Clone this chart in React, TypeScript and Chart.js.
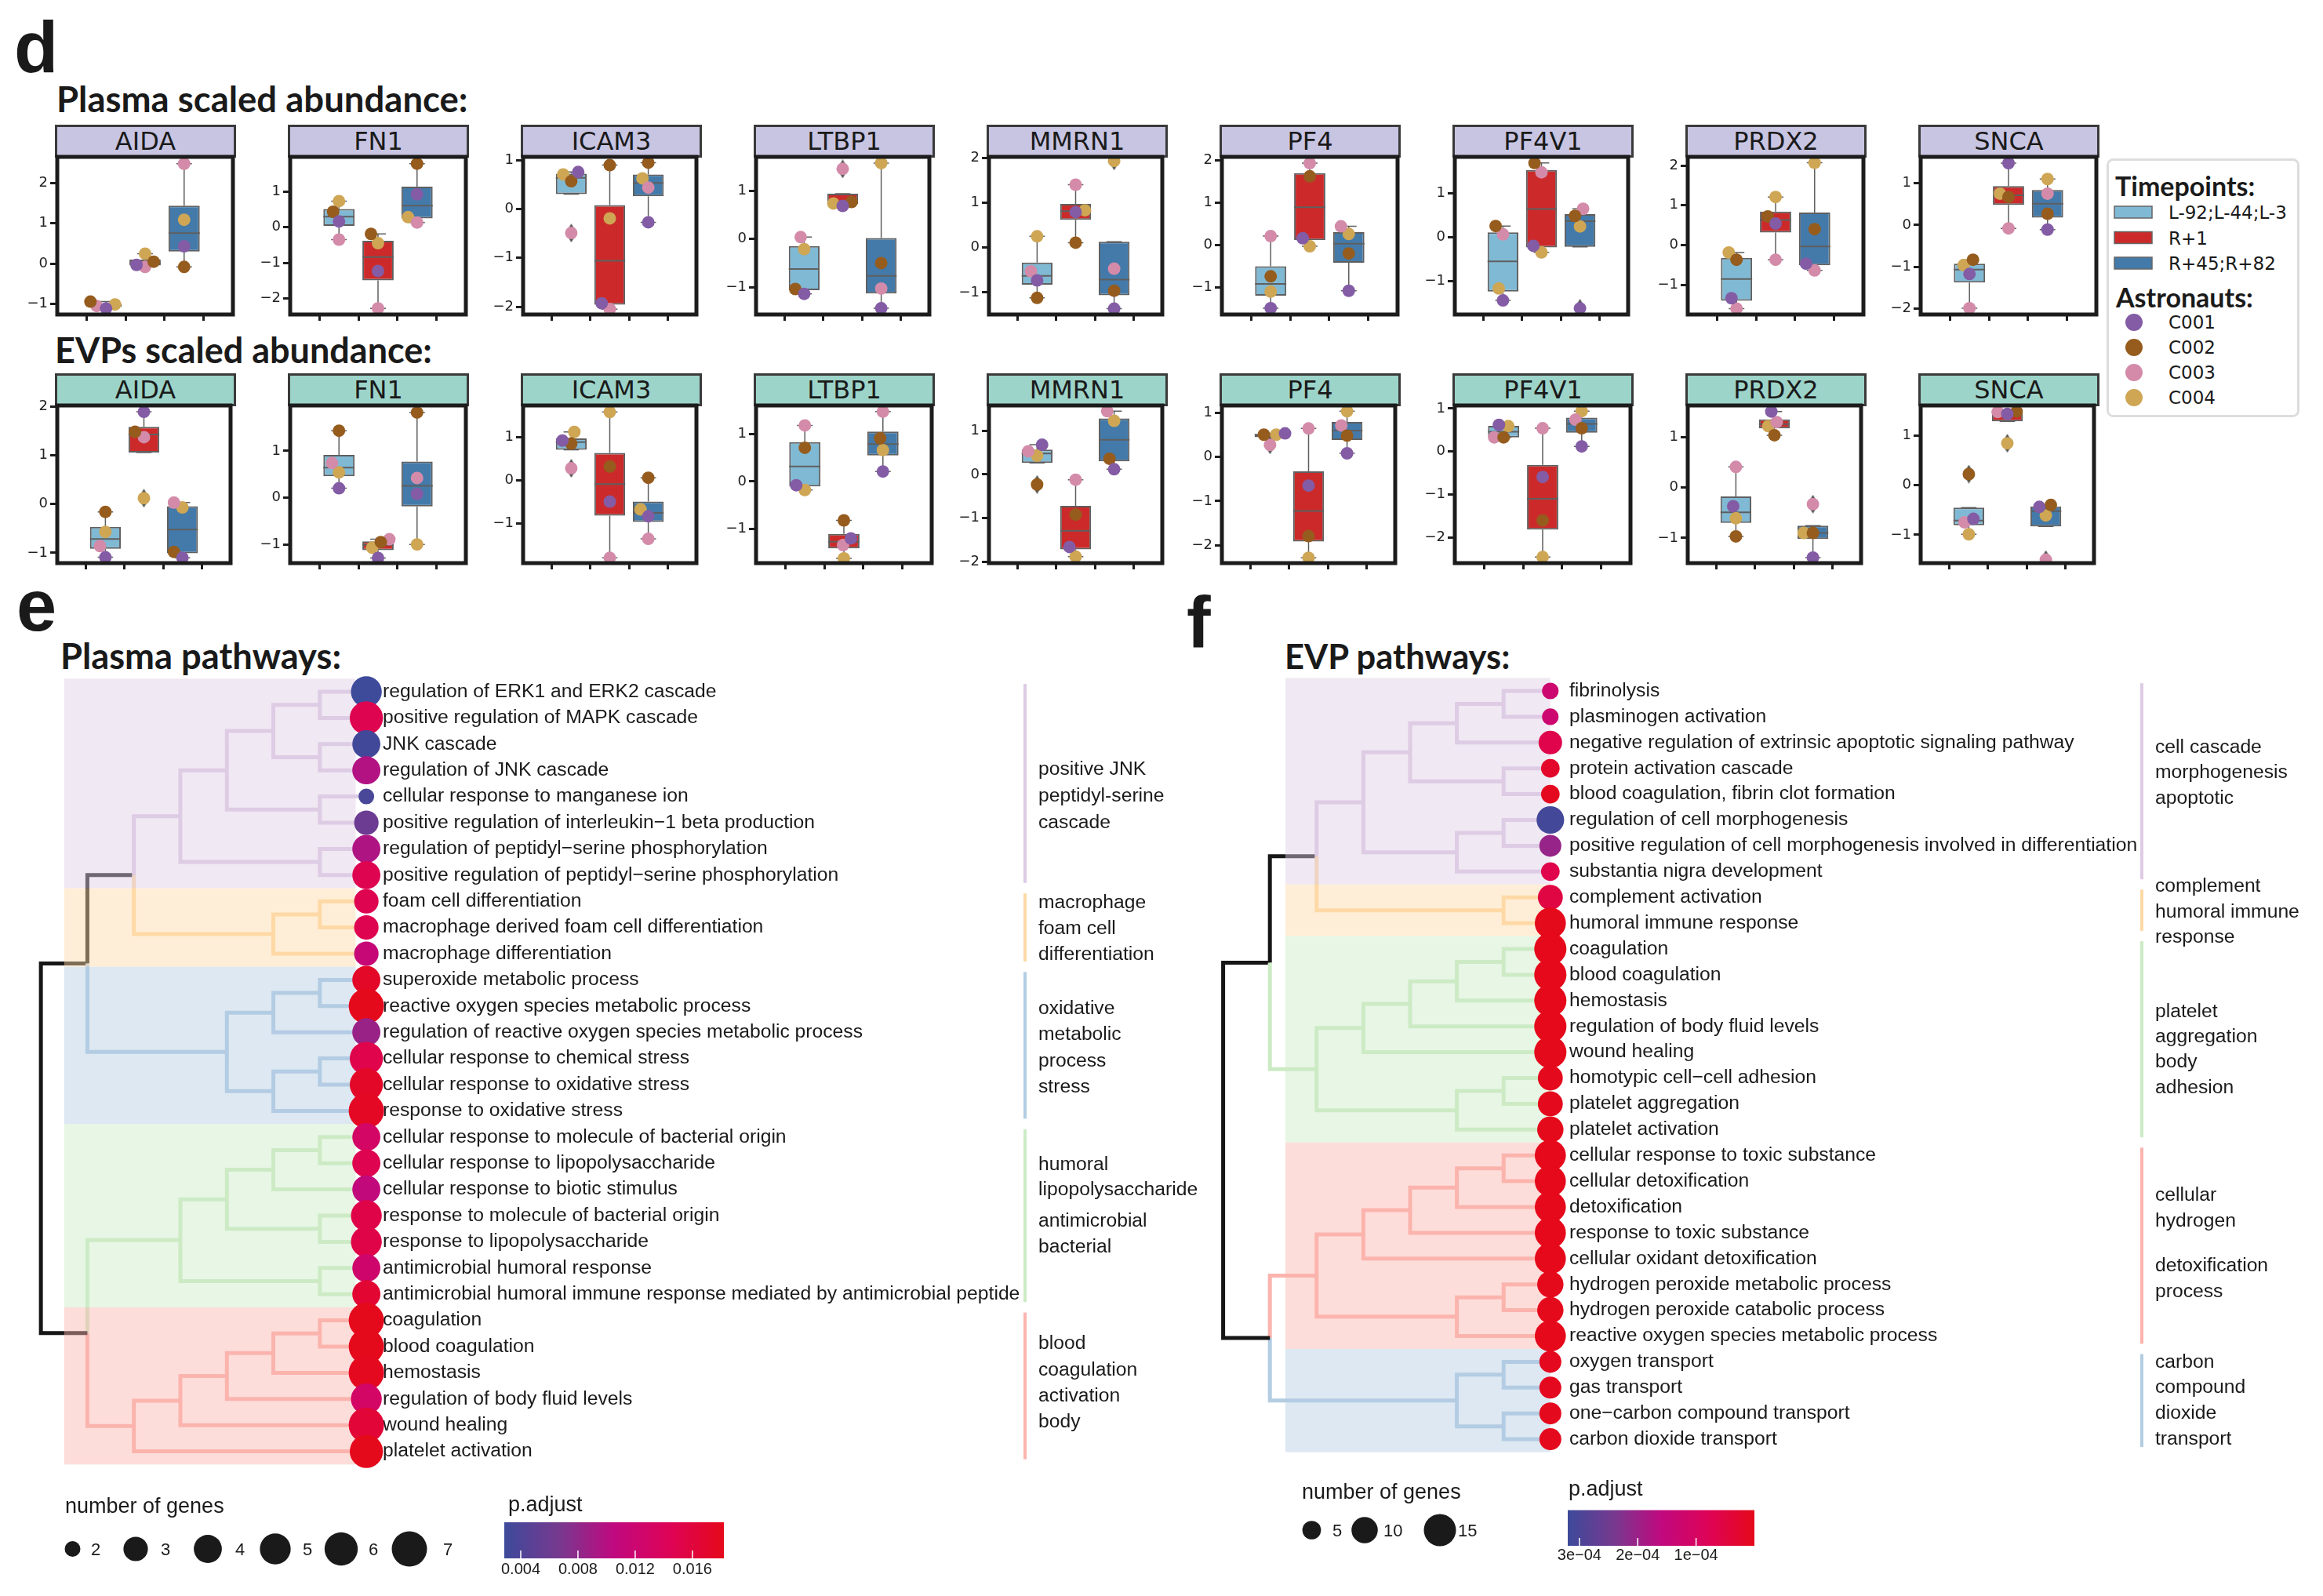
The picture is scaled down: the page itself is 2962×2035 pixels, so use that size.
import React, { useEffect, useRef } from "react";
import { Chart, registerables } from "chart.js";

Chart.register(...registerables);

// ====================== Panel d data ======================
const GENES = ["AIDA", "FN1", "ICAM3", "LTBP1", "MMRN1", "PF4", "PF4V1", "PRDX2", "SNCA"];
const TIMEPOINTS = ["L-92;L-44;L-3", "R+1", "R+45;R+82"];
const ASTRONAUTS = ["C001", "C002", "C003", "C004"];

// scaled abundance: [gene][timepoint][C001, C002, C003, C004]
const PLASMA_VALUES = [
  [[-1.11, -0.94, -1.05, -1.01], [-0.03, 0.05, -0.08, 0.25], [0.43, -0.08, 2.48, 1.09]],
  [[0.16, 0.43, -0.35, 0.73], [-1.23, -0.19, -2.28, -0.45], [0.92, 1.78, 0.13, 0.28]],
  [[0.76, 0.57, -0.49, 0.71], [-1.93, 0.9, -2.05, -0.19], [-0.27, 0.95, 0.44, 0.63]],
  [[-1.14, -1.04, 0.04, -0.21], [0.69, 0.77, 1.46, 0.74], [-1.44, -0.5, -1.03, 1.58]],
  [[-0.73, -1.12, -0.53, 0.25], [0.79, 0.11, 1.4, 0.83], [-1.36, -0.96, -0.47, 1.93]],
  [[-1.49, -0.74, 0.21, -1.1], [0.16, 1.62, 1.93, -0.03], [-1.08, -0.2, 0.44, 0.26]],
  [[-1.44, 0.25, 0.06, -1.17], [-0.2, 1.68, 1.47, -0.35], [-1.62, 0.48, 0.64, 0.24]],
  [[-1.34, -0.37, -1.6, -0.19], [0.54, 0.72, -0.37, 1.21], [-0.47, 0.4, -0.64, 2.07]],
  [[-1.17, -0.83, -1.99, -0.96], [1.48, 0.67, -0.08, 0.75], [-0.11, 0.27, 0.75, 1.1]],
];
// swarm offsets (category units)
const PLASMA_JITTER = [
  [[0, -0.4, -0.24, 0.23], [-0.22, 0.22, 0, 0], [0, 0, 0, 0]],
  [[0, -0.15, 0, 0], [0, -0.18, 0, 0], [0, 0, 0, -0.23]],
  [[0.18, 0, 0, -0.21], [-0.21, 0, 0, 0], [0, 0, 0, -0.15]],
  [[0, -0.23, -0.09, 0], [0, 0.23, 0, -0.24], [0, 0, 0, 0]],
  [[0, 0, -0.16, 0], [0, 0, 0, 0.24], [0, 0, 0, 0]],
  [[0, 0, 0, 0], [-0.18, 0, 0, 0], [0, 0, -0.2, 0]],
  [[0, -0.19, 0, -0.11], [-0.21, -0.18, 0, 0], [0, -0.13, 0.08, 0]],
  [[-0.13, 0, 0, -0.2], [0, -0.2, 0, 0], [-0.22, 0, 0, 0]],
  [[0, 0.09, 0, -0.15], [0, 0, 0, -0.22], [0, 0, 0, 0]],
];
const PLASMA_YLIM = [
  [-1.26, 2.65], [-2.45, 1.97], [-2.16, 1.07], [-1.57, 1.71], [-1.49, 2.02],
  [-1.64, 2.08], [-1.76, 1.82], [-1.75, 2.22], [-2.14, 1.63],
];

const EVP_VALUES = [
  [[-1.09, -0.16, -0.86, -0.57], [1.89, 1.48, 1.37, 0.12], [-1.1, -0.98, 0.03, -0.07]],
  [[0.2, 1.43, 0.74, 0.54], [-1.29, -0.95, -0.89, -1.07], [0.08, 1.82, 0.42, -1.0]],
  [[0.92, 0.85, 0.28, 1.12], [-0.49, 0.32, -1.79, 1.58], [-0.83, 0.06, -1.35, -0.67]],
  [[-0.08, 0.71, 1.18, -0.18], [-1.2, -0.82, -1.34, -1.62], [0.21, 0.91, 1.47, 0.66]],
  [[0.68, -0.23, 0.53, 0.43], [-1.66, -0.92, -0.12, -1.88], [0.12, 0.36, 1.45, 1.23]],
  [[0.53, 0.5, 0.27, 0.5], [-0.65, -1.79, 0.64, -2.28], [0.08, 0.48, 0.71, 1.03]],
  [[0.62, 0.33, 0.33, 0.59], [-0.59, -1.6, 0.54, -2.45], [0.12, 0.54, 0.74, 0.94]],
  [[-0.37, -0.97, 0.41, -0.61], [1.51, 1.04, 1.3, 1.22], [-1.39, -0.9, -0.33, -0.9]],
  [[-0.68, 0.22, -0.75, -0.99], [1.43, 1.48, 1.47, 0.84], [-0.44, -0.4, -1.5, -0.61]],
];
const EVP_JITTER = [
  [[0, 0, -0.14, 0], [0, -0.23, 0, 0], [0, -0.22, -0.22, 0]],
  [[0, 0, -0.18, 0], [0, 0.07, 0.29, -0.15], [0, 0, 0, 0]],
  [[-0.23, 0, 0, 0.08], [0, 0, 0, 0], [0, 0, 0, -0.2]],
  [[-0.22, 0, 0, 0], [0.18, 0, -0.02, 0], [0, -0.07, 0, 0]],
  [[0.13, 0, -0.23, 0], [-0.16, 0, 0, 0], [0, -0.12, -0.18, 0]],
  [[0.39, -0.16, 0, 0.16], [0, 0, 0, 0], [0, 0, -0.15, 0]],
  [[-0.12, 0, -0.24, 0.12], [0, 0, 0, 0], [0, 0, -0.16, 0]],
  [[-0.07, 0, 0, 0], [-0.08, 0, 0.06, -0.16], [0, 0, 0, -0.24]],
  [[0.12, 0, -0.11, 0], [0, 0.24, -0.25, 0], [-0.17, 0.13, 0, 0]],
];
const EVP_YLIM = [
  [-1.21, 2.02], [-1.4, 1.97], [-1.91, 1.73], [-1.72, 1.6], [-2.03, 1.58],
  [-2.4, 1.16], [-2.59, 1.07], [-1.5, 1.63], [-1.57, 1.6],
];

// ====================== Panel e data ======================
const PLASMA_PATHWAYS = [
  "regulation of ERK1 and ERK2 cascade",
  "positive regulation of MAPK cascade",
  "JNK cascade",
  "regulation of JNK cascade",
  "cellular response to manganese ion",
  "positive regulation of interleukin\u22121 beta production",
  "regulation of peptidyl\u2212serine phosphorylation",
  "positive regulation of peptidyl\u2212serine phosphorylation",
  "foam cell differentiation",
  "macrophage derived foam cell differentiation",
  "macrophage differentiation",
  "superoxide metabolic process",
  "reactive oxygen species metabolic process",
  "regulation of reactive oxygen species metabolic process",
  "cellular response to chemical stress",
  "cellular response to oxidative stress",
  "response to oxidative stress",
  "cellular response to molecule of bacterial origin",
  "cellular response to lipopolysaccharide",
  "cellular response to biotic stimulus",
  "response to molecule of bacterial origin",
  "response to lipopolysaccharide",
  "antimicrobial humoral response",
  "antimicrobial humoral immune response mediated by antimicrobial peptide",
  "coagulation",
  "blood coagulation",
  "hemostasis",
  "regulation of body fluid levels",
  "wound healing",
  "platelet activation",
];
const PLASMA_GENE_COUNTS = [5, 6, 4, 4, 2, 3, 4, 4, 3, 3, 3, 4, 7, 4, 6, 6, 7, 4, 4, 4, 5, 5, 4, 4, 7, 7, 7, 5, 7, 6];
const PLASMA_PADJ = [
  0.0029, 0.0148, 0.0032, 0.0098, 0.0036, 0.0059, 0.0096, 0.0148, 0.0148, 0.0148,
  0.0113, 0.0174, 0.0181, 0.0085, 0.0151, 0.0173, 0.0176, 0.013, 0.0148, 0.0108,
  0.0153, 0.0153, 0.0124, 0.0167, 0.0181, 0.0181, 0.0179, 0.013, 0.0164, 0.0181,
];
// dendrogram: [merge level, child, child]; leaves are row numbers
const PLASMA_TREE = [7,
  [6,
    [5, [4, [3, [2, [1, 1, 2], [1, 3, 4]], [1, 5, 6]], [1, 7, 8]], [2, [1, 9, 10], 11]],
    [3, [2, [1, 12, 13], 14], [2, [1, 15, 16], 17]]],
  [6,
    [4, [3, [2, [1, 18, 19], 20], [1, 21, 22]], [1, 23, 24]],
    [5, [4, [3, [2, [1, 25, 26], 27], 28], 29], 30]],
];
const PLASMA_CLUSTER_ROWS = [[1, 8], [9, 11], [12, 17], [18, 24], [25, 30]];
const PLASMA_CLUSTER_LABELS = [
  ["positive JNK", "peptidyl-serine", "cascade"],
  ["macrophage", "foam cell", "differentiation"],
  ["oxidative", "metabolic", "process", "stress"],
  ["humoral", "lipopolysaccharide", "antimicrobial", "bacterial"],
  ["blood", "coagulation", "activation", "body"],
];
const PLASMA_CLUSTER_LABEL_ROWS = [
  [3.97, 4.98, 6.0], [9.05, 10.05, 11.05], [13.1, 14.1, 15.1, 16.1],
  [19.05, 20.02, 21.22, 22.2], [25.9, 26.9, 27.88, 28.88],
];
const PLASMA_SIZE_BREAKS = [2, 3, 4, 5, 6, 7];
const PLASMA_PADJ_TICKS = [0.004, 0.008, 0.012, 0.016];
const PLASMA_PADJ_TICK_LABELS = ["0.004", "0.008", "0.012", "0.016"];
const PLASMA_PADJ_LIMITS = [0.00285, 0.0182]; // left, right end of colour bar

// ====================== Panel f data ======================
const EVP_PATHWAYS = [
  "fibrinolysis",
  "plasminogen activation",
  "negative regulation of extrinsic apoptotic signaling pathway",
  "protein activation cascade",
  "blood coagulation, fibrin clot formation",
  "regulation of cell morphogenesis",
  "positive regulation of cell morphogenesis involved in differentiation",
  "substantia nigra development",
  "complement activation",
  "humoral immune response",
  "coagulation",
  "blood coagulation",
  "hemostasis",
  "regulation of body fluid levels",
  "wound healing",
  "homotypic cell\u2212cell adhesion",
  "platelet aggregation",
  "platelet activation",
  "cellular response to toxic substance",
  "cellular detoxification",
  "detoxification",
  "response to toxic substance",
  "cellular oxidant detoxification",
  "hydrogen peroxide metabolic process",
  "hydrogen peroxide catabolic process",
  "reactive oxygen species metabolic process",
  "oxygen transport",
  "gas transport",
  "one\u2212carbon compound transport",
  "carbon dioxide transport",
];
const EVP_GENE_COUNTS = [4, 4, 8, 5, 5, 11, 7, 5, 9, 14, 15, 15, 15, 15, 15, 9, 9, 10, 14, 14, 14, 14, 14, 10, 10, 14, 7, 7, 7, 7];
const EVP_PADJ = [
  1.28e-4, 1.28e-4, 6.4e-5, 2.2e-5, 6e-6, 3.1e-4, 2.05e-4, 6.4e-5, 5.4e-5, 2e-6,
  1e-6, 1e-6, 1e-6, 1e-6, 2e-6, 4e-6, 4e-6, 2e-6, 1e-6, 1e-6,
  1e-6, 1e-6, 1e-6, 2e-6, 2e-6, 1e-6, 6e-6, 6e-6, 5e-6, 5e-6,
];
const EVP_TREE = [7,
  [6,
    [5, [4, [3, [2, [1, 1, 2], 3], [1, 4, 5]], [2, [1, 6, 7], 8]], [1, 9, 10]],
    [5, [4, [3, [2, [1, 11, 12], 13], 14], 15], [2, [1, 16, 17], 18]]],
  [6,
    [5, [4, [3, [2, [1, 19, 20], 21], 22], 23], [2, [1, 24, 25], 26]],
    [2, [1, 27, 28], [1, 29, 30]]],
];
const EVP_CLUSTER_ROWS = [[1, 8], [9, 10], [11, 18], [19, 26], [27, 30]];
const EVP_CLUSTER_LABELS = [
  ["cell cascade", "morphogenesis", "apoptotic"],
  ["complement", "humoral immune", "response"],
  ["platelet", "aggregation", "body", "adhesion"],
  ["cellular", "hydrogen", "detoxification", "process"],
  ["carbon", "compound", "dioxide", "transport"],
];
const EVP_CLUSTER_LABEL_ROWS = [
  [3.18, 4.17, 5.18], [8.57, 9.57, 10.55], [13.43, 14.4, 15.38, 16.4],
  [20.56, 21.55, 23.3, 24.3], [27.02, 28.0, 29.0, 30.0],
];
const EVP_SIZE_BREAKS = [5, 10, 15];
const EVP_PADJ_TICKS = [3e-4, 2e-4, 1e-4];
const EVP_PADJ_TICK_LABELS = ["3e\u221204", "2e\u221204", "1e\u221204"];
const EVP_PADJ_LIMITS = [3.2e-4, 0];

// ====================== styles ======================
const TIME_COLORS = ["#80b9d4", "#cc2a2a", "#437aaa"];
const ASTRO_COLORS = ["#835ca5", "#955c1d", "#d38ba9", "#cea654"];
const PASTEL = {
  red: [251, 180, 174], blue: [179, 205, 227], green: [204, 235, 197],
  purple: [222, 203, 228], orange: [254, 217, 166],
};
const PLASMA_CLUSTER_COLORS = [PASTEL.purple, PASTEL.orange, PASTEL.blue, PASTEL.green, PASTEL.red];
const EVP_CLUSTER_COLORS = [PASTEL.purple, PASTEL.orange, PASTEL.green, PASTEL.red, PASTEL.blue];
const CMAP_STOPS: [number, string][] = [
  [0, "#3d4a9a"], [0.25, "#77398f"], [0.5, "#c0097f"], [0.75, "#dd0357"], [1, "#e5091a"],
];
const SANS = "'Liberation Sans', Arial, Helvetica, sans-serif";
const HEAD = "Lato, 'Open Sans', sans-serif";
const LABEL_PX = 24.7;

function hexRgb(h: string) {
  const n = parseInt(h.slice(1), 16);
  return [(n >> 16) & 255, (n >> 8) & 255, n & 255];
}
function cmap(t: number) {
  t = Math.max(0, Math.min(1, t));
  for (let i = 1; i < CMAP_STOPS.length; i++) {
    const [t1, c1] = CMAP_STOPS[i];
    if (t <= t1 + 1e-9) {
      const [t0, c0] = CMAP_STOPS[i - 1];
      const f = (t - t0) / (t1 - t0);
      const a = hexRgb(c0), b = hexRgb(c1);
      return `rgb(${Math.round(a[0] + f * (b[0] - a[0]))},${Math.round(a[1] + f * (b[1] - a[1]))},${Math.round(a[2] + f * (b[2] - a[2]))})`;
    }
  }
  return CMAP_STOPS[CMAP_STOPS.length - 1][1];
}
const rgb = (c: number[], a = 1) => `rgba(${c[0]},${c[1]},${c[2]},${a})`;

// ====================== box plot helpers ======================
function quant(s: number[], p: number) {
  const pos = (s.length - 1) * p;
  const lo = Math.floor(pos), hi = Math.ceil(pos);
  return s[lo] + (pos - lo) * (s[hi] - s[lo]);
}
function boxStats(v: number[]) {
  const s = [...v].sort((a, b) => a - b);
  const q1 = quant(s, 0.25), med = quant(s, 0.5), q3 = quant(s, 0.75);
  const iqr = q3 - q1;
  const loF = q1 - 1.5 * iqr, hiF = q3 + 1.5 * iqr;
  let wlo = Math.min(...s.filter((x) => x >= loF));
  if (wlo > q1) wlo = q1;
  let whi = Math.max(...s.filter((x) => x <= hiF));
  if (whi < q3) whi = q3;
  const fliers = s.filter((x) => x < wlo || x > whi);
  return { q1, med, q3, wlo, whi, fliers };
}

const PANEL_X0 = 70, PANEL_DX = 297, PANEL_W = 231;
const AREA_W = 226, AREA_H = 201;
const ROW_AREA_TOP = [200, 517];
const ROW_STRIP = [[159, 199], [476, 516]];
const STRIP_COLORS = ["#c8c5e3", "#9dd4c9"];
const Y_AXIS_W = 44, X_AXIS_H = 22, PAD_T = 22, PAD_R = 6;

function makeDiamond(color: string) {
  const c = document.createElement("canvas");
  c.width = 14; c.height = 24;
  const g = c.getContext("2d")!;
  g.fillStyle = color;
  g.beginPath();
  g.moveTo(7, 0); g.lineTo(14, 12); g.lineTo(7, 24); g.lineTo(0, 12);
  g.closePath(); g.fill();
  return c;
}

const framePlugin = {
  id: "frame",
  afterDatasetsDraw(chart: any) {
    const { ctx, chartArea: a } = chart;
    ctx.save();
    ctx.strokeStyle = "#1c1c1c";
    ctx.lineWidth = 5;
    ctx.strokeRect(a.left, a.top, a.right - a.left, a.bottom - a.top);
    ctx.restore();
  },
};

function BoxChart({ values, jitter, ylim, col, row }: any) {
  const ref = useRef<HTMLCanvasElement>(null);
  const areaLeft = PANEL_X0 + PANEL_DX * col + 2.5;
  const areaTop = ROW_AREA_TOP[row];
  const cw = Y_AXIS_W + AREA_W + PAD_R;
  const ch = PAD_T + AREA_H + X_AXIS_H;
  useEffect(() => {
    const stats = values.map((g: number[]) => boxStats(g));
    const whisk: any[] = [];
    const med: any[] = [];
    const fl: any[] = [];
    stats.forEach((s: any, i: number) => {
      whisk.push({ x: i, y: s.q1 }, { x: i, y: s.wlo }, { x: i, y: null });
      whisk.push({ x: i - 0.2, y: s.wlo }, { x: i + 0.2, y: s.wlo }, { x: i, y: null });
      whisk.push({ x: i, y: s.q3 }, { x: i, y: s.whi }, { x: i, y: null });
      whisk.push({ x: i - 0.2, y: s.whi }, { x: i + 0.2, y: s.whi }, { x: i, y: null });
      med.push({ x: i - 0.4, y: s.med }, { x: i + 0.4, y: s.med }, { x: i, y: null });
      s.fliers.forEach((f: number) => {
        const ai = values[i].indexOf(f);
        fl.push({ x: i + (ai >= 0 ? jitter[i][ai] : 0), y: f });
      });
    });
    const datasets: any[] = ASTRONAUTS.map((a, ai) => ({
      type: "scatter",
      label: a,
      data: values.map((g: number[], gi: number) => ({ x: gi + jitter[gi][ai], y: g[ai] })),
      backgroundColor: ASTRO_COLORS[ai],
      borderWidth: 0,
      pointRadius: 8,
      pointHoverRadius: 8,
      order: 1,
    }));
    datasets.push({
      type: "scatter", label: "fliers", data: fl,
      pointStyle: makeDiamond("#505050"), pointRadius: 10, order: 2,
    });
    datasets.push({
      type: "scatter", label: "median", data: med, showLine: true,
      borderColor: "#5f5f5f", borderWidth: 2, pointRadius: 0, spanGaps: false, order: 3,
    });
    datasets.push({
      type: "scatter", label: "whiskers", data: whisk, showLine: true,
      borderColor: "#5f5f5f", borderWidth: 1.5, pointRadius: 0, spanGaps: false, order: 4,
    });
    datasets.push({
      type: "bar", label: "box",
      data: stats.map((s: any, i: number) => ({ x: i, y: [s.q1, s.q3] })),
      backgroundColor: TIME_COLORS, borderColor: "#5f5f5f", borderWidth: 2,
      borderSkipped: false, barPercentage: 0.8, categoryPercentage: 1, grouped: false, order: 5,
    });
    const gridOpts = (len: number) => ({
      display: true, drawOnChartArea: false, drawTicks: true,
      tickLength: len, tickWidth: 3, tickColor: "#1c1c1c",
    });
    const chart = new Chart(ref.current!, {
      type: "scatter",
      data: { datasets },
      plugins: [framePlugin],
      options: {
        animation: false, responsive: false, maintainAspectRatio: false,
        devicePixelRatio: 1, events: [],
        layout: { padding: { top: PAD_T, right: PAD_R, left: 0, bottom: 0 } },
        plugins: { legend: { display: false }, tooltip: { enabled: false } },
        scales: {
          x: {
            type: "linear", min: -0.5, max: 2.5,
            afterBuildTicks: (s: any) => { s.ticks = [0, 1, 2].map((v) => ({ value: v })); },
            afterFit: (s: any) => { s.height = X_AXIS_H; },
            ticks: { display: false },
            grid: gridOpts(8),
            border: { display: false },
          },
          y: {
            type: "linear", min: ylim[0], max: ylim[1],
            afterBuildTicks: (s: any) => {
              const t: any[] = [];
              for (let v = Math.ceil(s.min); v <= Math.floor(s.max); v++) t.push({ value: v });
              s.ticks = t;
            },
            afterFit: (s: any) => { s.width = Y_AXIS_W; },
            ticks: {
              font: { family: "'DejaVu Sans'", size: 18 }, color: "#222", padding: 3,
              callback: (v: any) => (v < 0 ? "\u2212" + Math.abs(v) : String(v)),
            },
            grid: gridOpts(9),
            border: { display: false },
          },
        },
      } as any,
    });
    return () => chart.destroy();
  }, []);
  return (
    <canvas
      ref={ref}
      width={cw}
      height={ch}
      style={{ position: "absolute", left: areaLeft - Y_AXIS_W, top: areaTop - PAD_T, width: cw, height: ch }}
    />
  );
}

// ====================== dendrogram / dot panels ======================
function walk(node: any, clusterOf: (r: number) => number, segs: any[]): any {
  if (typeof node === "number") return { level: 0, y: node, cl: clusterOf(node) };
  const [lv, a, b] = node;
  const A = walk(a, clusterOf, segs);
  const B = walk(b, clusterOf, segs);
  const y = (A.y + B.y) / 2;
  for (const c of [A, B]) segs.push({ cl: c.cl, pts: [[c.level, c.y], [lv, c.y], [lv, y]] });
  return { level: lv, y, cl: A.cl === B.cl ? A.cl : -1 };
}

const PLASMA_CFG = {
  labels: PLASMA_PATHWAYS, genes: PLASMA_GENE_COUNTS, padj: PLASMA_PADJ, tree: PLASMA_TREE,
  clusterRows: PLASMA_CLUSTER_ROWS, clusterLabels: PLASMA_CLUSTER_LABELS,
  clusterLabelRows: PLASMA_CLUSTER_LABEL_ROWS, colors: PLASMA_CLUSTER_COLORS,
  sizeBreaks: PLASMA_SIZE_BREAKS, pTicks: PLASMA_PADJ_TICKS, pTickLabels: PLASMA_PADJ_TICK_LABELS,
  pLimits: PLASMA_PADJ_LIMITS,
  size: (n: number) => 20 + 25 * Math.sqrt((n - 2) / 5),
  canvas: { left: 0, top: 780, width: 1560, height: 1255 },
  x0: 467, dx: 59.7, lmin: -0.3, lmax: 7.5, labelX: 488,
  row1: 882, rowStep: 33.4, band: [6.5, 0.23],
  barX: 1307, clusterTextX: 1324,
  sizeTitle: [83, 1929], sizeDotX: [92.5, 173, 265, 351, 435, 522], sizeDotY: 1975,
  sizeLabelX: [116, 205, 300, 386, 470, 565], sizeLabelY: 1983,
  pTitle: [648, 1927], bar: [643, 1941, 280, 46], tickLabelY: 2007,
};
const EVP_CFG = {
  labels: EVP_PATHWAYS, genes: EVP_GENE_COUNTS, padj: EVP_PADJ, tree: EVP_TREE,
  clusterRows: EVP_CLUSTER_ROWS, clusterLabels: EVP_CLUSTER_LABELS,
  clusterLabelRows: EVP_CLUSTER_LABEL_ROWS, colors: EVP_CLUSTER_COLORS,
  sizeBreaks: EVP_SIZE_BREAKS, pTicks: EVP_PADJ_TICKS, pTickLabels: EVP_PADJ_TICK_LABELS,
  pLimits: EVP_PADJ_LIMITS,
  size: (n: number) => 10.6 * Math.sqrt(n),
  canvas: { left: 1500, top: 780, width: 1462, height: 1255 },
  x0: 1976.8, dx: 59.6, lmin: -0.35, lmax: 7.4, labelX: 2001,
  row1: 881, rowStep: 32.9, band: [5.67, 0.0],
  barX: 2731, clusterTextX: 2748,
  sizeTitle: [1660, 1911], sizeDotX: [1672.5, 1740, 1836], sizeDotY: 1951,
  sizeLabelX: [1699, 1764, 1859], sizeLabelY: 1959,
  pTitle: [2000, 1907], bar: [1999, 1925.5, 238, 45.5], tickLabelY: 1989,
};

function PathwayChart({ cfg }: any) {
  const ref = useRef<HTMLCanvasElement>(null);
  const cv = cfg.canvas;
  useEffect(() => {
    const n = cfg.labels.length;
    const clusterOf = (r: number) =>
      cfg.clusterRows.findIndex((ab: number[]) => r >= ab[0] && r <= ab[1]);
    const segs: any[] = [];
    walk(cfg.tree, clusterOf, segs);
    const groups = new Map<number, any[]>();
    for (const s of segs) {
      if (!groups.has(s.cl)) groups.set(s.cl, []);
      const arr = groups.get(s.cl)!;
      for (const p of s.pts) arr.push({ x: p[0], y: p[1] });
      arr.push({ x: s.pts[2][0], y: null });
    }
    const tOf = (p: number) => (p - cfg.pLimits[0]) / (cfg.pLimits[1] - cfg.pLimits[0]);
    const radii = cfg.genes.map((g: number) => cfg.size(g) / 2);
    const datasets: any[] = [
      {
        type: "scatter", label: "dots",
        data: cfg.labels.map((_: string, i: number) => ({ x: 0, y: i + 1 })),
        pointRadius: radii, pointHoverRadius: radii,
        backgroundColor: cfg.padj.map((p: number) => cmap(tOf(p))),
        borderWidth: 0, clip: false, order: 0,
      },
    ];
    groups.forEach((data, cl) => {
      datasets.push({
        type: "scatter", label: "tree" + cl, data, showLine: true, spanGaps: false,
        borderColor: cl < 0 ? "#161616" : rgb(cfg.colors[cl]), borderWidth: 5,
        borderJoinStyle: "miter", pointRadius: 0, clip: false, order: 1,
      });
    });

    // layout derived from level / row mapping
    const areaLeft = cfg.x0 - cfg.dx * cfg.lmax - cv.left;
    const areaRight = cfg.x0 - cfg.dx * cfg.lmin - cv.left;
    const areaTop = cfg.row1 - 0.5 * cfg.rowStep - cv.top;
    const areaBottom = cfg.row1 + (n - 0.5) * cfg.rowStep - cv.top;
    const axisW = cv.width - areaRight;

    const decor = {
      id: "decor",
      beforeDatasetDraw(chart: any, args: any) {
        if (args.index !== 0) return;
        const { ctx, scales } = chart;
        const x0 = scales.x.getPixelForValue(cfg.band[0]);
        const x1 = scales.x.getPixelForValue(cfg.band[1]);
        ctx.save();
        cfg.clusterRows.forEach((ab: number[], k: number) => {
          const y0 = scales.y.getPixelForValue(ab[0] - 0.5);
          const y1 = scales.y.getPixelForValue(ab[1] + 0.5);
          ctx.fillStyle = rgb(cfg.colors[k], 0.45);
          ctx.fillRect(x0, y0, x1 - x0, y1 - y0);
        });
        ctx.restore();
      },
      afterDraw(chart: any) {
        const { ctx, scales } = chart;
        const L = cv.left, T = cv.top;
        ctx.save();
        // cluster bars and labels
        cfg.clusterRows.forEach((ab: number[], k: number) => {
          const y0 = scales.y.getPixelForValue(ab[0] - 0.3);
          const y1 = scales.y.getPixelForValue(ab[1] + 0.3);
          ctx.fillStyle = rgb(cfg.colors[k]);
          ctx.fillRect(cfg.barX - L - 2, y0, 4, y1 - y0);
          ctx.fillStyle = "#1a1a1a";
          ctx.font = `${LABEL_PX}px ${SANS}`;
          ctx.textBaseline = "middle";
          ctx.textAlign = "left";
          cfg.clusterLabels[k].forEach((txt: string, j: number) => {
            ctx.fillText(txt, cfg.clusterTextX - L, scales.y.getPixelForValue(cfg.clusterLabelRows[k][j]));
          });
        });
        // size legend
        ctx.textBaseline = "alphabetic";
        ctx.fillStyle = "#1a1a1a";
        ctx.font = `27px ${SANS}`;
        ctx.fillText("number of genes", cfg.sizeTitle[0] - L, cfg.sizeTitle[1] - T);
        cfg.sizeBreaks.forEach((b: number, i: number) => {
          ctx.fillStyle = "#1a1a1a";
          ctx.beginPath();
          ctx.arc(cfg.sizeDotX[i] - L, cfg.sizeDotY - T, cfg.size(b) / 2, 0, Math.PI * 2);
          ctx.fill();
          ctx.font = `22px ${SANS}`;
          ctx.fillText(String(b), cfg.sizeLabelX[i] - L, cfg.sizeLabelY - T);
        });
        // colour bar
        ctx.font = `27px ${SANS}`;
        ctx.fillText("p.adjust", cfg.pTitle[0] - L, cfg.pTitle[1] - T);
        const [bx, by, bw, bh] = cfg.bar;
        const grad = ctx.createLinearGradient(bx - L, 0, bx - L + bw, 0);
        CMAP_STOPS.forEach(([t, c]) => grad.addColorStop(t, c));
        ctx.fillStyle = grad;
        ctx.fillRect(bx - L, by - T, bw, bh);
        ctx.strokeStyle = "#ffffff";
        ctx.lineWidth = 1.5;
        ctx.fillStyle = "#1a1a1a";
        ctx.font = `20px ${SANS}`;
        ctx.textAlign = "center";
        cfg.pTicks.forEach((v: number, i: number) => {
          const px = bx - L + ((v - cfg.pLimits[0]) / (cfg.pLimits[1] - cfg.pLimits[0])) * bw;
          ctx.beginPath();
          ctx.moveTo(px, by - T + bh - 10);
          ctx.lineTo(px, by - T + bh);
          ctx.stroke();
          ctx.fillText(cfg.pTickLabels[i], px, cfg.tickLabelY - T);
        });
        ctx.restore();
      },
    };

    const chart = new Chart(ref.current!, {
      type: "scatter",
      data: { datasets },
      plugins: [decor],
      options: {
        animation: false, responsive: false, maintainAspectRatio: false,
        devicePixelRatio: 1, events: [],
        layout: { padding: { left: areaLeft, top: areaTop, right: 0, bottom: cv.height - areaBottom } },
        plugins: { legend: { display: false }, tooltip: { enabled: false } },
        scales: {
          x: { type: "linear", reverse: true, min: cfg.lmin, max: cfg.lmax, display: false },
          y: {
            type: "linear", position: "right", reverse: true, min: 0.5, max: n + 0.5,
            afterBuildTicks: (s: any) => {
              s.ticks = cfg.labels.map((_: string, i: number) => ({ value: i + 1 }));
            },
            afterFit: (s: any) => { s.width = axisW; },
            ticks: {
              autoSkip: false, padding: cfg.labelX - cv.left - areaRight,
              font: { family: SANS, size: LABEL_PX }, color: "#1a1a1a",
              callback: (v: any) => cfg.labels[Math.round(v) - 1] ?? "",
            },
            grid: { display: false, drawTicks: false },
            border: { display: false },
          },
        },
      } as any,
    });
    return () => chart.destroy();
  }, []);
  return (
    <canvas
      ref={ref}
      width={cv.width}
      height={cv.height}
      style={{ position: "absolute", left: cv.left, top: cv.top, width: cv.width, height: cv.height }}
    />
  );
}

// ====================== static text / strips / legend ======================
function Overlay() {
  return (
    <svg width={2962} height={2035} style={{ position: "absolute", left: 0, top: 0 }}>
      <text x={18} y={92} fontFamily={SANS} fontWeight="bold" fontSize={92} fill="#1a1a1a">d</text>
      <text x={21} y={804} fontFamily={SANS} fontWeight="bold" fontSize={92} fill="#1a1a1a">e</text>
      <text x={1513} y={825} fontFamily={SANS} fontWeight="bold" fontSize={92} fill="#1a1a1a">f</text>
      <text x={72} y={143} fontFamily={HEAD} fontWeight="bold" fontSize={45.5} fill="#1a1a1a">Plasma scaled abundance:</text>
      <text x={70} y={463} fontFamily={HEAD} fontWeight="bold" fontSize={45} fill="#1a1a1a">EVPs scaled abundance:</text>
      <text x={77} y={853} fontFamily={HEAD} fontWeight="bold" fontSize={45.3} fill="#1a1a1a">Plasma pathways:</text>
      <text x={1638} y={853} fontFamily={HEAD} fontWeight="bold" fontSize={43.5} fill="#1a1a1a">EVP pathways:</text>
      {[0, 1].map((r) =>
        GENES.map((g, i) => {
          const x = PANEL_X0 + PANEL_DX * i;
          const [t, b] = ROW_STRIP[r];
          return (
            <g key={r + g}>
              <rect x={x + 1.5} y={t + 1.5} width={PANEL_W - 3} height={b - t - 1} fill={STRIP_COLORS[r]} stroke="#3a3a3a" strokeWidth={3} />
              <text x={x + PANEL_W / 2} y={b - 8} textAnchor="middle" fontFamily="'DejaVu Sans'" fontSize={32} fill="#1a1a1a">{g}</text>
            </g>
          );
        })
      )}
      <rect x={2687.5} y={203.5} width={243} height={327} rx={7} fill="#ffffff" stroke="#dddddd" strokeWidth={3} />
      <text x={2697} y={250} fontFamily={HEAD} fontWeight="bold" fontSize={34} fill="#1a1a1a">Timepoints:</text>
      {TIMEPOINTS.map((t, i) => (
        <g key={t}>
          <rect x={2696} y={263 + i * 32.5} width={48} height={15} fill={TIME_COLORS[i]} stroke="#666" strokeWidth={1.5} />
          <text x={2765} y={279 + i * 32.5} fontFamily="'DejaVu Sans'" fontSize={23} fill="#1a1a1a">{t}</text>
        </g>
      ))}
      <text x={2698} y={392} fontFamily={HEAD} fontWeight="bold" fontSize={34} fill="#1a1a1a">Astronauts:</text>
      {ASTRONAUTS.map((a, i) => (
        <g key={a}>
          <circle cx={2721} cy={411 + i * 32} r={11} fill={ASTRO_COLORS[i]} />
          <text x={2765} y={419 + i * 32} fontFamily="'DejaVu Sans'" fontSize={23} fill="#1a1a1a">{a}</text>
        </g>
      ))}
    </svg>
  );
}

export default function App() {
  return (
    <div style={{ position: "absolute", left: 0, top: 0, width: 2962, height: 2035, background: "#ffffff", overflow: "hidden" }}>
      <Overlay />
      {GENES.map((g, i) => (
        <BoxChart key={"p" + g} values={PLASMA_VALUES[i]} jitter={PLASMA_JITTER[i]} ylim={PLASMA_YLIM[i]} col={i} row={0} />
      ))}
      {GENES.map((g, i) => (
        <BoxChart key={"e" + g} values={EVP_VALUES[i]} jitter={EVP_JITTER[i]} ylim={EVP_YLIM[i]} col={i} row={1} />
      ))}
      <PathwayChart cfg={PLASMA_CFG} />
      <PathwayChart cfg={EVP_CFG} />
    </div>
  );
}
